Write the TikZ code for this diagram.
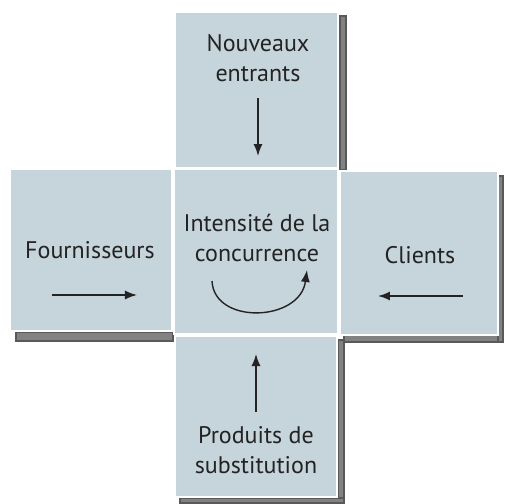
\documentclass[tikz,border=0pt]{standalone}
\usepackage{fontspec}
\setmainfont{PT Sans}
\usetikzlibrary{arrows.meta}

\definecolor{fondcarre}{RGB}{198,212,219}
\definecolor{ombrecarre}{RGB}{128,130,132}
\definecolor{encre}{RGB}{35,35,35}

\tikzset{
	carre/.style={draw=white, line width=1pt, fill=fondcarre},
	ombre/.style={fill=ombrecarre, draw=black!65, line width=0.6pt},
	texte/.style={align=center, text=encre, font=\fontsize{12}{15}\selectfont},
	fleche/.style={draw=encre, line width=0.7pt, -{Latex[length=6pt,width=4.5pt]}}
}

\begin{document}
\begin{tikzpicture}[x=0.5pt, y=-0.5pt]
	\path
		[use as bounding box, fill=white] (0,0) rectangle (505,504);

	% ombres
	\path[ombre] (340,16) rectangle (346,170);
	\path[ombre] (16,332) rectangle (173,341);
	\path[ombre] (344,335) rectangle (503,342);
	\path[ombre] (498,176) rectangle (503,342);
	\path[ombre] (338,340) rectangle (344,503);
	\path[ombre] (180,498) rectangle (344,503);

	% carres
	\path[carre] (175,12) rectangle (338,168);
	\path[carre] (10,169) rectangle (172,331);
	\path[carre] (174,169) rectangle (338,334);
	\path[carre] (340,171) rectangle (498,335);
	\path[carre] (175,336) rectangle (337,497);

	\node[texte] (nouveaux) at (258,58) {Nouveaux\\entrants};
	\node[texte] (fournisseurs) at (90,250) {Fournisseurs};
	\node[texte] (intensite) at (257,238) {Intensité de la\\concurrence};
	\node[texte] (clients) at (420,255) {Clients};
	\node[texte] (produits) at (256,450) {Produits de\\substitution};

	\coordinate (n1) at (258,98);
	\coordinate (n2) at (258,156);
	\coordinate (f1) at (52,295);
	\coordinate (f2) at (137,295);
	\coordinate (c1) at (463,296);
	\coordinate (c2) at (378,296);
	\coordinate (p1) at (256,412);
	\coordinate (p2) at (256,354);
	\coordinate (i1) at (212,281);
	\coordinate (i2) at (307,270);

	\draw[fleche] (n1) -- (n2);
	\draw[fleche] (f1) -- (f2);
	\draw[fleche] (c1) -- (c2);
	\draw[fleche] (p1) -- (p2);
	\draw[fleche]
		(i1) .. controls (214,325) and (300,322) .. (i2);
\end{tikzpicture}
\end{document}
